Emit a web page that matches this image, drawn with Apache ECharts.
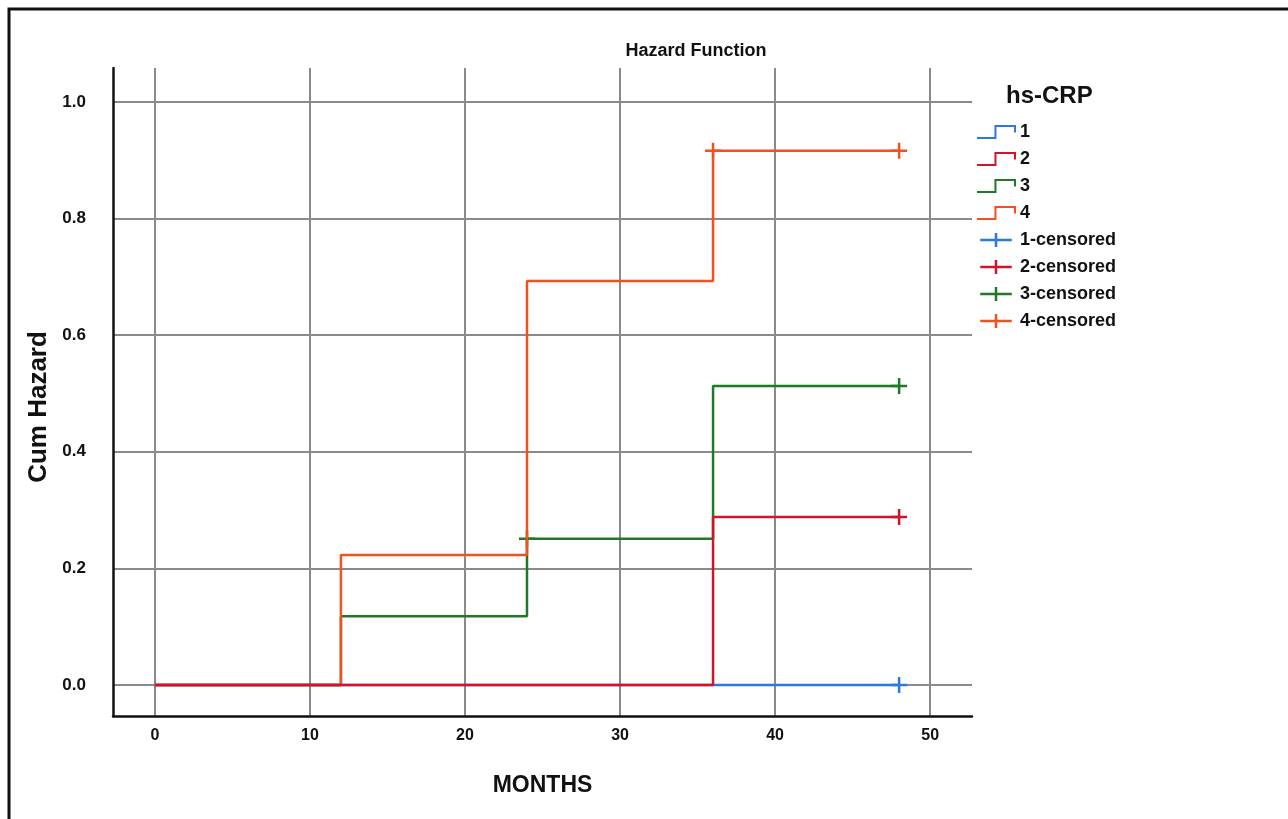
<!DOCTYPE html>
<html>
<head>
<meta charset="utf-8">
<title>Hazard Function</title>
<script src="https://cdn.jsdelivr.net/npm/echarts@6/dist/echarts.min.js"></script>
<style>
  html, body { margin: 0; padding: 0; background: #fff; }
  #main { width: 1288px; height: 819px; }
</style>
</head>
<body>
<div id="main"></div>
<script>
// cumulative hazard steps, one pair of arrays per hs-CRP group
const months1 = [0, 48];
const hazard1 = [0, 0];
const months2 = [0, 36, 48];
const hazard2 = [0, 0.288, 0.288];
const months3 = [0, 12, 24, 36, 48];
const hazard3 = [0, 0.118, 0.251, 0.513, 0.513];
const months4 = [0, 12, 24, 36, 48];
const hazard4 = [0, 0.223, 0.693, 0.916, 0.916];

// censored cases
const censMonths1 = [48];
const censHazard1 = [0];
const censMonths2 = [48];
const censHazard2 = [0.288];
const censMonths3 = [24, 48];
const censHazard3 = [0.251, 0.513];
const censMonths4 = [36, 48];
const censHazard4 = [0.916, 0.916];

const groups = ['1', '2', '3', '4'];
const xTicks = [0, 10, 20, 30, 40, 50];
const yTicks = [0, 0.2, 0.4, 0.6, 0.8, 1.0];

const colors = ['#2a78e0', '#d0142c', '#1f7a27', '#f2501e'];
const FONT = "'Liberation Sans', Arial, sans-serif";

function pairs(xs, ys) {
  return xs.map((x, i) => [x, ys[i]]);
}

const steps = [pairs(months1, hazard1), pairs(months2, hazard2), pairs(months3, hazard3), pairs(months4, hazard4)];
const cens = [pairs(censMonths1, censHazard1), pairs(censMonths2, censHazard2), pairs(censMonths3, censHazard3), pairs(censMonths4, censHazard4)];

const stepIcon = 'path://M0,11 L17,11 L17,0 L35,0 L35,6';
const plusIcon = 'path://M0,8 L36,8 M18,0 L18,16';
const plusMark = 'path://M0,8 L16,8 M8,0 L8,16';

// draw order: blue, green, orange, red on top
const order = [0, 2, 3, 1];
const series = [];
order.forEach(i => {
  series.push({
    name: groups[i],
    type: 'line',
    step: 'end',
    data: steps[i],
    showSymbol: false,
    symbol: 'none',
    lineStyle: { color: colors[i], width: 2.5 },
    itemStyle: { color: colors[i] },
    animation: false
  });
});
order.forEach(i => {
  series.push({
    name: groups[i] + '-censored',
    type: 'scatter',
    data: cens[i],
    symbol: plusMark,
    symbolSize: [16, 16],
    itemStyle: { color: 'rgba(0,0,0,0)', borderColor: colors[i], borderWidth: 2.5, opacity: 1 },
    animation: false
  });
});

const legendData = [];
groups.forEach((g, i) => {
  legendData.push({ name: g, icon: stepIcon,
    itemStyle: { color: 'rgba(0,0,0,0)', borderColor: colors[i], borderWidth: 2, opacity: 1 } });
});
groups.forEach((g, i) => {
  legendData.push({ name: g + '-censored', icon: plusIcon,
    itemStyle: { color: 'rgba(0,0,0,0)', borderColor: colors[i], borderWidth: 2.5, opacity: 1 } });
});

const chart = echarts.init(document.getElementById('main'));
chart.setOption({
  backgroundColor: '#fff',
  animation: false,
  title: [
    { text: 'Hazard Function', left: 691, top: 37, textAlign: 'center',
      textStyle: { fontFamily: FONT, fontWeight: 'bold', fontSize: 18, color: '#111' } },
    { text: 'hs-CRP', left: 1001, top: 79,
      textStyle: { fontFamily: FONT, fontWeight: 'bold', fontSize: 24, color: '#111' } }
  ],
  legend: {
    orient: 'vertical',
    left: 971,
    top: 118,
    itemWidth: 38,
    itemHeight: 14,
    itemGap: 9,
    data: legendData,
    textStyle: { fontFamily: FONT, fontWeight: 'bold', fontSize: 18, color: '#111' }
  },
  grid: { left: 113, top: 68, right: 316, bottom: 103, containLabel: false },
  xAxis: {
    type: 'value',
    min: -2.7,
    max: 52.7,
    name: 'MONTHS',
    nameLocation: 'middle',
    nameGap: 58,
    nameTextStyle: { fontFamily: FONT, fontWeight: 'bold', fontSize: 23, color: '#111' },
    axisLine: { onZero: false, lineStyle: { color: '#111', width: 2.5 } },
    axisTick: { show: false, customValues: xTicks },
    axisLabel: { customValues: xTicks, margin: 12, fontFamily: FONT, fontWeight: 'bold', fontSize: 16, color: '#111' },
    splitLine: { show: true, lineStyle: { color: '#8a8a8a', width: 2 } }
  },
  yAxis: {
    type: 'value',
    min: -0.053,
    max: 1.058,
    name: 'Cum Hazard',
    nameLocation: 'middle',
    nameGap: 52,
    nameTextStyle: { fontFamily: FONT, fontWeight: 'bold', fontSize: 26, color: '#111', padding: [0, 30, 0, 0] },
    axisLine: { show: true, onZero: false, lineStyle: { color: '#111', width: 2.5 } },
    axisTick: { show: false, customValues: yTicks },
    axisLabel: { customValues: yTicks, margin: 27, fontFamily: FONT, fontWeight: 'bold', fontSize: 17, color: '#111',
      formatter: v => v.toFixed(1) },
    splitLine: { show: true, lineStyle: { color: '#8a8a8a', width: 2 } }
  },
  graphic: [
    { type: 'rect', shape: { x: 9, y: 9, width: 1300, height: 830 },
      style: { fill: 'none', stroke: '#111', lineWidth: 3 }, silent: true }
  ],
  series: series
});
</script>
</body>
</html>
